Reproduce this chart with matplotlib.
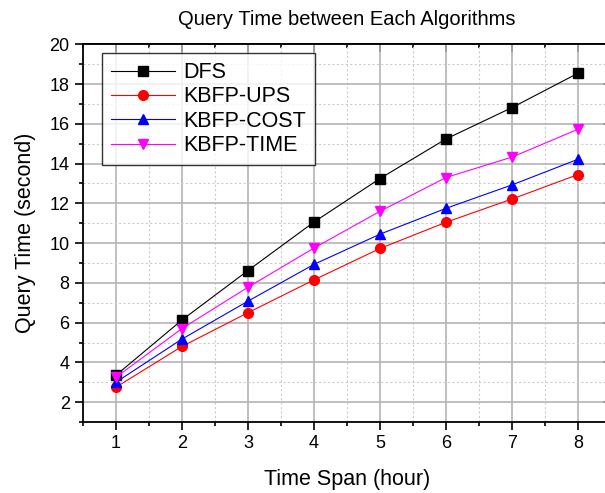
import numpy as np
import matplotlib
matplotlib.use("Agg")
import matplotlib.pyplot as plt
from matplotlib.ticker import MultipleLocator

plt.rcParams["font.family"] = ["Liberation Sans", "DejaVu Sans"]

hours = [1, 2, 3, 4, 5, 6, 7, 8]
dfs = [3.35, 6.13, 8.62, 11.06, 13.25, 15.24, 16.82, 18.55]
kbfp_ups = [2.75, 4.80, 6.50, 8.15, 9.73, 11.05, 12.22, 13.45]
kbfp_cost = [3.00, 5.17, 7.08, 8.93, 10.45, 11.75, 12.93, 14.22]
kbfp_time = [3.25, 5.70, 7.78, 9.75, 11.60, 13.30, 14.33, 15.73]

series = [
    ("DFS", dfs, "black", "s"),
    ("KBFP-UPS", kbfp_ups, "red", "o"),
    ("KBFP-COST", kbfp_cost, "blue", "^"),
    ("KBFP-TIME", kbfp_time, "magenta", "v"),
]

fig = plt.figure(figsize=(6.05, 4.93), dpi=100)
ax = fig.add_axes([0.137, 0.144, 0.873, 0.766])

for name, vals, col, mk in series:
    ax.plot(hours, vals, color=col, marker=mk, markersize=7, linewidth=0.8,
            label=name, zorder=3)

ax.set_xlim(0.5, 8.5)
ax.set_ylim(1, 20)
ax.xaxis.set_major_locator(MultipleLocator(1))
ax.xaxis.set_minor_locator(MultipleLocator(0.5))
ax.yaxis.set_major_locator(MultipleLocator(2))
ax.yaxis.set_minor_locator(MultipleLocator(1))

ax.grid(which="major", color="#b4b4b4", linewidth=1.2, linestyle="-")
ax.grid(which="minor", color="#cccccc", linewidth=0.8, linestyle=(0, (2, 2)))
ax.set_axisbelow(True)

# bottom/left ticks point outward
ax.tick_params(which="both", direction="out", width=1.2, labelsize=13)
ax.tick_params(which="major", length=6)
ax.tick_params(which="minor", length=3)

# top/right ticks point inward, no labels
top = ax.secondary_xaxis("top")
right = ax.secondary_yaxis("right")
top.xaxis.set_major_locator(MultipleLocator(1))
top.xaxis.set_minor_locator(MultipleLocator(0.5))
right.yaxis.set_major_locator(MultipleLocator(2))
right.yaxis.set_minor_locator(MultipleLocator(1))
for sec in (top, right):
    sec.tick_params(which="both", direction="in", width=1.2,
                    labeltop=False, labelright=False)
    sec.tick_params(which="major", length=6)
    sec.tick_params(which="minor", length=3)
    for sp in sec.spines.values():
        sp.set_linewidth(1.3)

for sp in ax.spines.values():
    sp.set_linewidth(1.3)

ax.set_xlabel("Time Span (hour)", fontsize=15.5, labelpad=12)
ax.set_ylabel("Query Time (second)", fontsize=15.5, labelpad=10)
ax.set_title("Query Time between Each Algorithms", fontsize=14.5, pad=14)

leg = ax.legend(loc="upper left", bbox_to_anchor=(0.036, 0.976), fontsize=15.5,
                frameon=True, fancybox=False, handlelength=3.0,
                borderpad=0.4, labelspacing=0.16, handletextpad=0.4,
                borderaxespad=0)
leg.get_frame().set_edgecolor("black")
leg.get_frame().set_linewidth(1.0)

fig.savefig("out.png", dpi=100)
